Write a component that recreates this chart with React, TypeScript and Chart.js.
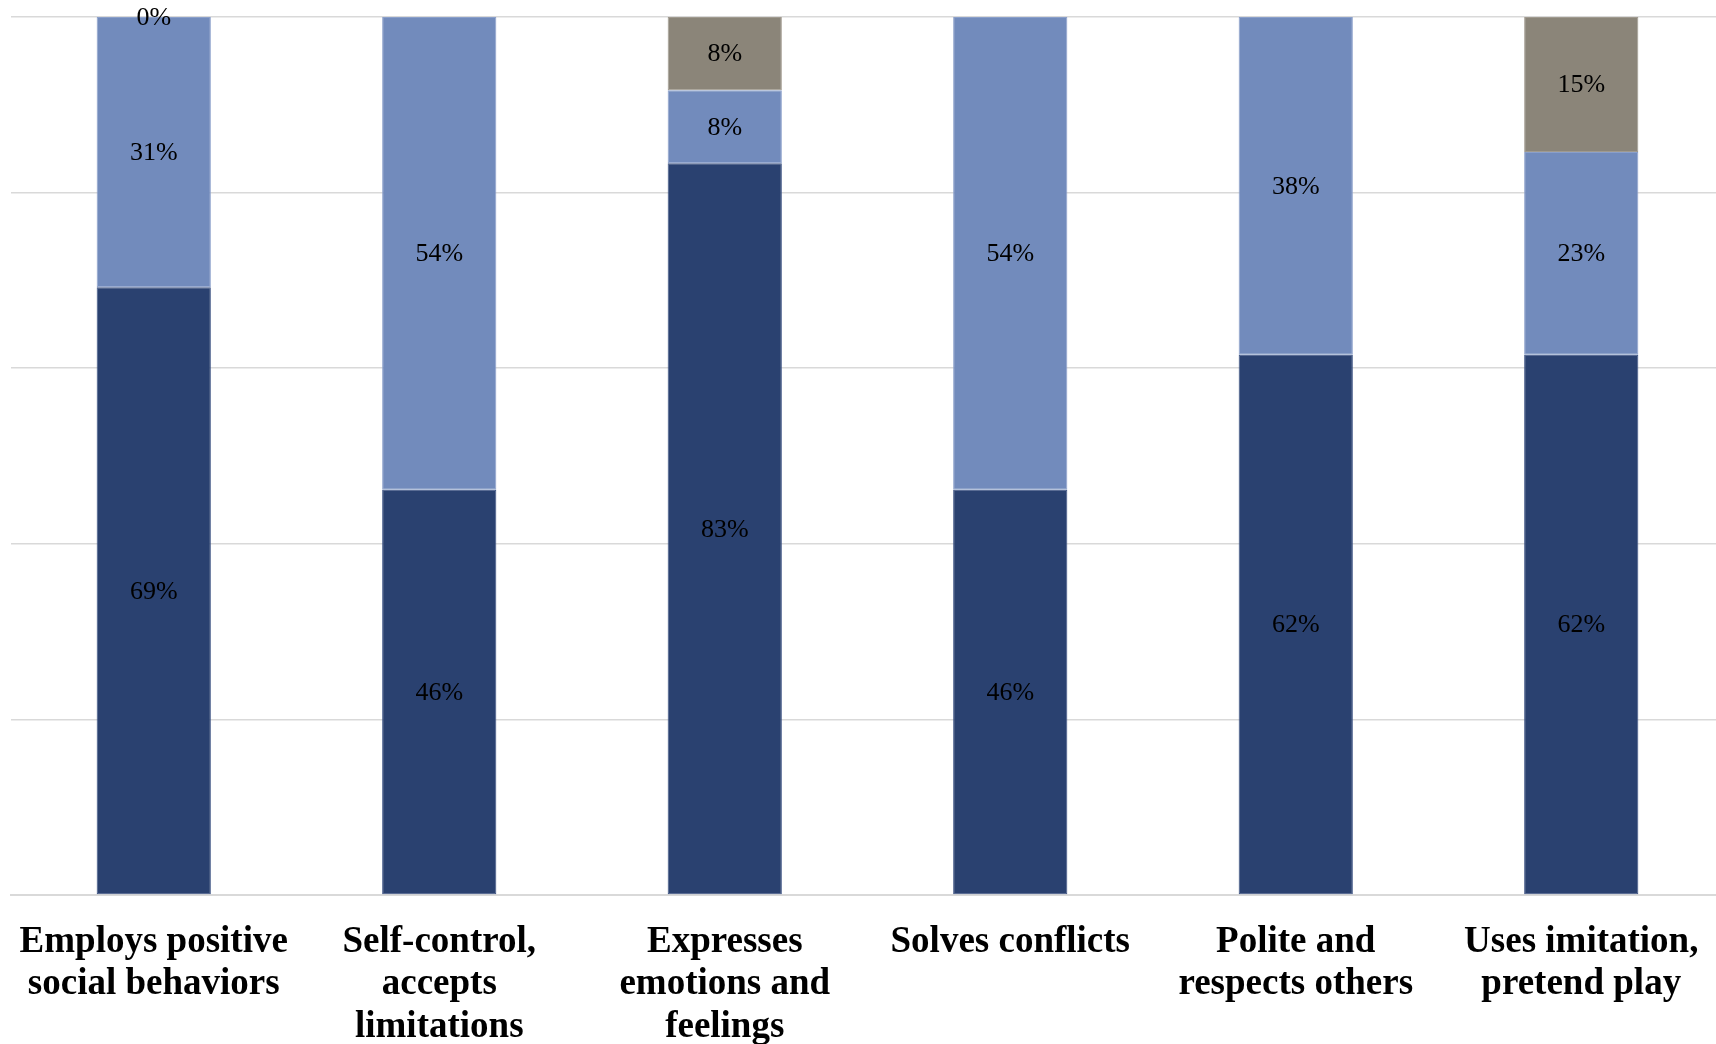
import React, { useEffect, useRef } from "react";
import { Chart, registerables } from "chart.js";

Chart.register(...registerables);

// Skill areas, each split over three response levels (percent of children)
const categories: string[][] = [
  ["Employs positive", "social behaviors"],
  ["Self-control,", "accepts", "limitations"],
  ["Expresses", "emotions and", "feelings"],
  ["Solves conflicts"],
  ["Polite and", "respects others"],
  ["Uses imitation,", "pretend play"],
];

const levelHigh: (number | null)[] = [69.23, 46.15, 83.33, 46.15, 61.54, 61.54];
const levelMid: (number | null)[] = [30.77, 53.85, 8.33, 53.85, 38.46, 23.08];
const levelLow: (number | null)[] = [0, null, 8.34, null, null, 15.38];

const yTicks: number[] = [0, 20, 40, 60, 80, 100];

const COLOR_HIGH = "#2a4170";
const COLOR_MID = "#728bbc";
const COLOR_LOW = "#8b8579";
const EDGE_HIGH = "#3b5182";
const EDGE_MID = "#8a9fca";
const EDGE_LOW = "#a09a8f";
const GRID = "#d9d9d9";

// Writes each segment's percentage in the middle of the segment
const segmentLabels = {
  id: "segmentLabels",
  afterDatasetsDraw(chart: Chart) {
    const { ctx } = chart;
    ctx.save();
    ctx.font = '26px "Liberation Serif", "Times New Roman", serif';
    ctx.fillStyle = "#000000";
    ctx.textAlign = "center";
    ctx.textBaseline = "middle";
    chart.data.datasets.forEach((ds, di) => {
      const meta = chart.getDatasetMeta(di);
      meta.data.forEach((el: any, i: number) => {
        const v = ds.data[i] as number | null;
        if (v === null || v === undefined) return;
        const { x, y, base } = el.getProps(["x", "y", "base"], true);
        ctx.fillText(`${Math.round(v)}%`, x, (y + base) / 2 + 1);
      });
    });
    ctx.restore();
  },
};

export default function App() {
  const canvasRef = useRef<HTMLCanvasElement | null>(null);

  useEffect(() => {
    if (!canvasRef.current) return;
    const common = {
      stack: "s",
      barPercentage: 0.4,
      categoryPercentage: 1,
      borderWidth: 1,
      borderSkipped: false as const,
    };
    const chart = new Chart(canvasRef.current, {
      type: "bar",
      data: {
        labels: categories,
        datasets: [
          { label: "Level A", data: levelHigh, backgroundColor: COLOR_HIGH, borderColor: EDGE_HIGH, ...common },
          { label: "Level B", data: levelMid, backgroundColor: COLOR_MID, borderColor: EDGE_MID, ...common },
          { label: "Level C", data: levelLow, backgroundColor: COLOR_LOW, borderColor: EDGE_LOW, ...common },
        ],
      },
      options: {
        animation: false,
        responsive: false,
        maintainAspectRatio: false,
        layout: { padding: { left: 11, right: 1, top: 17, bottom: 0 } },
        plugins: {
          legend: { display: false },
          tooltip: { enabled: false },
        },
        scales: {
          x: {
            stacked: true,
            grid: { display: false, drawTicks: false },
            border: { display: true, color: GRID, width: 2 },
            ticks: {
              autoSkip: false,
              maxRotation: 0,
              minRotation: 0,
              padding: 26,
              color: "#000000",
              font: {
                family: '"Liberation Serif", "Times New Roman", serif',
                size: 37,
                weight: "bold",
                lineHeight: 1.15,
              },
            },
            afterFit: (scale: any) => {
              scale.height = 149;
              scale.paddingLeft = 0;
              scale.paddingRight = 0;
            },
          },
          y: {
            stacked: true,
            min: 0,
            max: 100,
            afterBuildTicks: (scale: any) => {
              scale.ticks = yTicks.map((v) => ({ value: v }));
            },
            afterFit: (scale: any) => {
              scale.width = 0;
              scale.paddingTop = 0;
              scale.paddingBottom = 0;
            },
            grid: { color: GRID, lineWidth: 1.5, drawTicks: false },
            border: { display: false },
            ticks: { display: false },
          },
        },
      },
      plugins: [segmentLabels],
    });
    return () => chart.destroy();
  }, []);

  return (
    <div style={{ position: "fixed", inset: 0, overflow: "hidden", background: "#ffffff" }}>
      <div style={{ position: "absolute", left: 0, top: 0, width: 1725, height: 1044 }}>
        <canvas ref={canvasRef} width={1725} height={1044} style={{ display: "block" }} />
      </div>
    </div>
  );
}
